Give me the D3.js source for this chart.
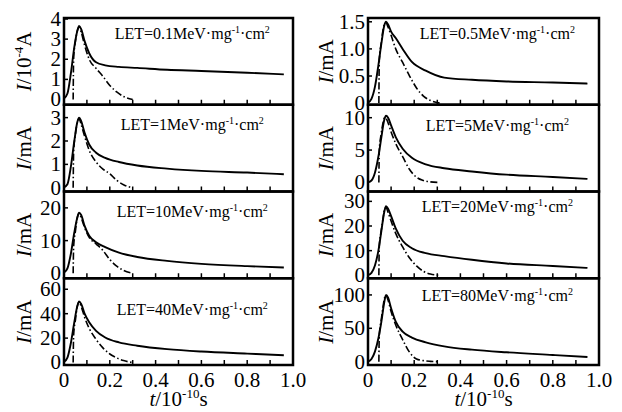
<!DOCTYPE html>
<html>
<meta charset="utf-8">
<style>
body { margin: 0; background: #fff; }
text { font-family: "Liberation Serif", "Times New Roman", Times, serif; }
.frame { fill: none; stroke: #000; stroke-width: 2.5; }
.solid { fill: none; stroke: #000; stroke-width: 1.9; }
.dashdot { fill: none; stroke: #000; stroke-width: 1.6; stroke-dasharray: 7,2.5,1.5,2.5; }
.tick { stroke: #000; stroke-width: 1.5; }
</style>
<body>
<svg width="622" height="412"></svg>
<script src="https://cdn.jsdelivr.net/npm/d3@7"></script>
<script>

// time samples (10^-10 s), left column peaks a little earlier than right
var tSolidL = [0, 0.015, 0.03, 0.045, 0.058, 0.066, 0.075, 0.09, 0.11, 0.14, 0.18, 0.24, 0.32, 0.45, 0.6, 0.8, 0.96];
var tDashL  = [0.04, 0.042, 0.05, 0.058, 0.066, 0.075, 0.09, 0.11, 0.14, 0.17, 0.2, 0.23, 0.26, 0.3];
var tSolidR = [0, 0.015, 0.03, 0.045, 0.058, 0.07, 0.078, 0.087, 0.1, 0.12, 0.15, 0.19, 0.25, 0.33, 0.45, 0.6, 0.8, 0.95];
var tDashR  = [0.047, 0.049, 0.057, 0.065, 0.072, 0.078, 0.087, 0.1, 0.12, 0.15, 0.18, 0.21, 0.24, 0.27, 0.31];

var letValues = ["0.1", "1", "10", "40", "0.5", "5", "20", "80"];
var yUnits = ["10-4A", "mA", "mA", "mA", "mA", "mA", "mA", "mA"];
var yDomains = [[-0.26, 4.05], [-0.16, 3.55], [-1.5, 25], [-2, 69],
                [-0.03, 1.57], [-1.4, 12], [-1.2, 34], [-5, 125]];
var yTicks = [[0, 1, 2, 3, 4], [0, 1, 2, 3], [0, 10, 20], [0, 20, 40, 60],
              [0, 0.5, 1, 1.5], [0, 5, 10], [0, 10, 20, 30], [0, 50, 100]];
var xTicks = [0, 0.2, 0.4, 0.6, 0.8, 1.0];

// solid curves (total current)
var solid01 = [0.05, 0.3, 1.3, 2.6, 3.4, 3.65, 3.5, 2.9, 2.3, 1.85, 1.7, 1.62, 1.57, 1.48, 1.42, 1.33, 1.25];
var solid1  = [0.02, 0.15, 0.9, 2.0, 2.8, 3.0, 2.85, 2.35, 1.85, 1.5, 1.28, 1.1, 0.95, 0.82, 0.72, 0.65, 0.58];
var solid10 = [0.2, 1.5, 6, 12.5, 17, 18.5, 17.8, 14.5, 11.5, 9.5, 8.0, 6.3, 5.0, 3.8, 2.9, 2.2, 1.8];
var solid40 = [0.5, 4, 16, 33, 46, 50, 48, 40, 33, 26, 20.5, 16.5, 13.8, 11, 9, 7.3, 6];
var solid05 = [0.01, 0.08, 0.3, 0.7, 1.1, 1.42, 1.5, 1.45, 1.32, 1.2, 1.0, 0.76, 0.6, 0.47, 0.43, 0.4, 0.38, 0.36];
var solid5  = [0.02, 0.3, 1.5, 4, 7, 9.6, 10.3, 10, 8.8, 7, 5.2, 3.8, 2.8, 2.2, 1.7, 1.2, 0.85, 0.55];
var solid20 = [0.05, 1, 4, 10, 18, 25.5, 28, 27, 24, 19, 14, 11, 9, 7.8, 6.3, 4.8, 3.8, 3];
var solid80 = [0.2, 4, 15, 35, 60, 88, 100, 96, 80, 60, 45, 36, 29, 23, 18, 14, 10, 7];

// dash-dot curves (prompt component)
var dash01 = [0, 2.0, 2.9, 3.4, 3.6, 3.35, 2.7, 2.0, 1.55, 1.15, 0.7, 0.38, 0.15, 0];
var dash1  = [0, 1.5, 2.3, 2.8, 2.95, 2.7, 2.2, 1.6, 1.1, 0.8, 0.6, 0.32, 0.13, 0];
var dash10 = [0, 8, 13, 17, 18.3, 17, 14, 11, 9, 7, 4.2, 2.2, 0.9, 0];
var dash40 = [0, 22, 35, 46, 49.5, 46, 37, 28, 19, 12, 7, 3.8, 1.6, 0];
var dash05 = [0, 0.8, 1.1, 1.35, 1.47, 1.48, 1.4, 1.25, 1.0, 0.75, 0.5, 0.28, 0.13, 0.05, 0];
var dash5  = [0, 5, 7.5, 9.2, 10, 9.9, 9.2, 7.8, 6, 4, 2.0, 0.8, 0.3, 0.08, 0];
var dash20 = [0, 12, 18, 23, 27, 27.5, 25.5, 22, 17, 11.5, 7, 3.8, 1.6, 0.5, 0];
var dash80 = [0, 40, 62, 82, 96, 99, 92, 75, 55, 33, 14, 4, 1.5, 0.5, 0];

var solids = [solid01, solid1, solid10, solid40, solid05, solid5, solid20, solid80];
var dashes = [dash01, dash1, dash10, dash40, dash05, dash5, dash20, dash80];

// layout
var svg = d3.select("svg");
var serif = "'Liberation Serif', 'Times New Roman', Times, serif";
var colLeft = [64, 368], colRight = [293, 599];
var plotTop = 18, plotBottom = 365;
var rowH = (plotBottom - plotTop) / 4;
var labelDy = [15, 20, 20, 31, 15, 21, 15, 17];

var fmt = function(d, i) {
  if (d === 0) return "0";
  return i === 4 ? d.toFixed(1) : String(d);
};

d3.range(8).forEach(function(i) {
  var col = i < 4 ? 0 : 1, row = i % 4;
  var y0 = plotTop + row * rowH, y1 = y0 + rowH;

  var x = d3.scaleLinear().domain([0, 1]).range([colLeft[col], colRight[col]]);
  var y = d3.scaleLinear().domain(yDomains[i]).range([y1, y0]);

  var g = svg.append("g").attr("font-family", serif);
  var tS = col === 0 ? tSolidL : tSolidR;
  var tD = col === 0 ? tDashL : tDashR;

  var line = d3.line()
      .x(function(d) { return x(d[0]); })
      .y(function(d) { return y(d[1]); })
      .curve(d3.curveMonotoneX);

  g.append("path")
      .attr("class", "dashdot")
      .attr("d", line(d3.zip(tD, dashes[i])));
  g.append("path")
      .attr("class", "solid")
      .attr("d", line(d3.zip(tS, solids[i])));

  // x ticks, inward from bottom edge
  g.selectAll(".xt")
    .data(d3.range(1, 10).map(function(k) { return k / 10; }))
    .enter().append("line")
      .attr("class", "tick")
      .attr("x1", function(d) { return x(d); })
      .attr("x2", function(d) { return x(d); })
      .attr("y1", y1)
      .attr("y2", y1 - 5);

  // y ticks and labels
  yTicks[i].forEach(function(v) {
    if (v > 0) {
      g.append("line").attr("class", "tick")
        .attr("x1", x(0)).attr("x2", x(0) + 4)
        .attr("y1", y(v)).attr("y2", y(v));
    }
    g.append("text")
      .attr("x", x(0) - 3)
      .attr("y", y(v))
      .attr("dy", "0.33em")
      .attr("text-anchor", "end")
      .attr("font-size", 21)
      .text(fmt(v, i));
  });

  g.append("rect")
      .attr("class", "frame")
      .attr("x", x(0)).attr("y", y0)
      .attr("width", x(1) - x(0)).attr("height", rowH);

  // LET annotation
  var lab = g.append("text")
      .attr("x", x(0.56))
      .attr("y", y0 + labelDy[i])
      .attr("dy", "0.35em")
      .attr("text-anchor", "middle")
      .attr("font-size", 16);
  lab.append("tspan").text("LET=" + letValues[i] + "MeV\u00b7mg");
  lab.append("tspan").attr("font-size", 10).attr("dy", -6).text("-1");
  lab.append("tspan").attr("dy", 6).text("\u00b7cm");
  lab.append("tspan").attr("font-size", 10).attr("dy", -6).text("2");

  // y title
  var yt = g.append("text")
      .attr("transform", "translate(" + (col === 0 ? 24 : 326) + "," + ((y0 + y1) / 2) + ") rotate(-90)")
      .attr("text-anchor", "middle")
      .attr("dy", "0.35em")
      .attr("font-size", 21);
  yt.append("tspan").attr("font-style", "italic").text("I");
  if (yUnits[i] === "mA") {
    yt.append("tspan").text("/mA");
  } else {
    yt.append("tspan").text("/10");
    yt.append("tspan").attr("font-size", 13).attr("dy", -8).text("-4");
    yt.append("tspan").attr("dy", 8).text("A");
  }

  // bottom axis labels
  if (row === 3) {
    xTicks.forEach(function(v) {
      g.append("text")
        .attr("x", x(v))
        .attr("y", y1 + 22)
        .attr("text-anchor", "middle")
        .attr("font-size", 21)
        .text(v === 0 ? "0" : v.toFixed(1));
    });
    var xt = g.append("text")
        .attr("x", x(0.5))
        .attr("y", 406)
        .attr("text-anchor", "middle")
        .attr("font-size", 21);
    xt.append("tspan").attr("font-style", "italic").text("t");
    xt.append("tspan").text("/10");
    xt.append("tspan").attr("font-size", 13).attr("dy", -8).text("-10");
    xt.append("tspan").attr("dy", 8).text("s");
  }
});
</script>
</body>
</html>
